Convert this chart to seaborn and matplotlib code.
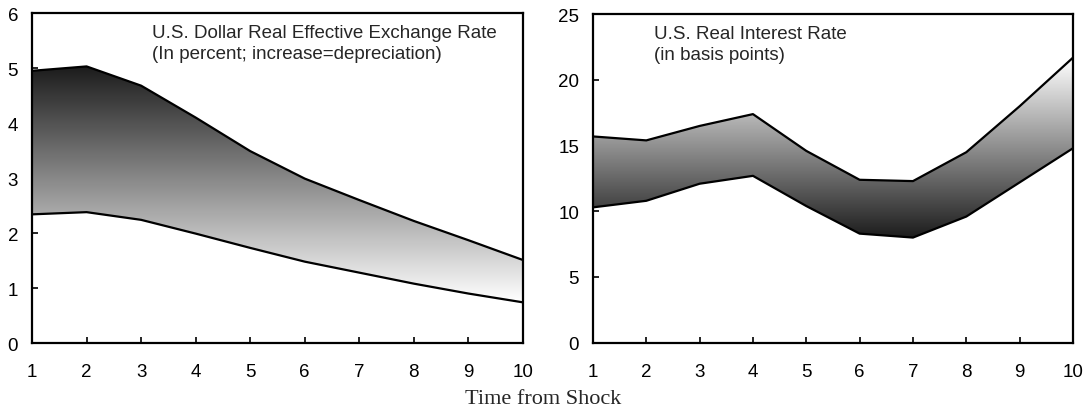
import numpy as np
import pandas as pd
import matplotlib
matplotlib.use("Agg")
import matplotlib.pyplot as plt
import seaborn as sns
from matplotlib.colors import LinearSegmentedColormap

# data
periods = [1, 2, 3, 4, 5, 6, 7, 8, 9, 10]
reer_upper = [4.95, 5.03, 4.68, 4.10, 3.49, 2.99, 2.60, 2.22, 1.87, 1.51]
reer_lower = [2.34, 2.38, 2.24, 1.99, 1.73, 1.48, 1.28, 1.08, 0.90, 0.74]
rate_upper = [15.7, 15.4, 16.5, 17.4, 14.6, 12.4, 12.3, 14.5, 18.0, 21.7]
rate_lower = [10.3, 10.8, 12.1, 12.7, 10.4, 8.3, 8.0, 9.6, 12.2, 14.8]

reer_title = "U.S. Dollar Real Effective Exchange Rate\n(In percent; increase=depreciation)"
rate_title = "U.S. Real Interest Rate\n(in basis points)"
xlabel = "Time from Shock"

sns.set_theme(style="white")
plt.rcParams["font.family"] = ["Liberation Sans", "DejaVu Sans"]


def gradient_band(ax, x, lower, upper, dark_on_top):
    """Fill the band between lower and upper with a vertical grey gradient."""
    poly = ax.fill_between(x, lower, upper, color="none", lw=0)
    cmap = LinearSegmentedColormap.from_list("band", ["#1c1c1c", "#ffffff"])
    grad = np.linspace(0, 1, 256).reshape(-1, 1)
    if not dark_on_top:
        grad = grad[::-1]
    img = ax.imshow(grad, cmap=cmap, aspect="auto", origin="upper",
                    extent=[min(x), max(x), min(lower), max(upper)], zorder=1)
    path = poly.get_paths()[0]
    img.set_clip_path(path, transform=ax.transData)

    df = pd.DataFrame({"x": x, "lower": lower, "upper": upper})
    sns.lineplot(data=df, x="x", y="upper", color="black", lw=1.6, ax=ax, zorder=3)
    sns.lineplot(data=df, x="x", y="lower", color="black", lw=1.6, ax=ax, zorder=3)


def style_axes(ax, ymax, ystep):
    ax.set_xlim(1, 10)
    ax.set_ylim(0, ymax)
    ax.set_xticks(periods)
    ax.set_yticks(np.arange(0, ymax + ystep / 2, ystep))
    ax.set_xlabel("")
    ax.set_ylabel("")
    for s in ax.spines.values():
        s.set_visible(True)
        s.set_color("black")
        s.set_linewidth(1.6)
    ax.tick_params(axis="both", direction="in", length=4, width=1.2,
                   colors="black", labelsize=13.5)
    ax.tick_params(axis="x", pad=14.5, bottom=True)
    ax.tick_params(axis="y", pad=10, left=True)
    ax.set_facecolor("white")


fig = plt.figure(figsize=(10.86, 4.14), dpi=100)
ax1 = fig.add_axes([0.0295, 0.169, 0.452, 0.797])
ax2 = fig.add_axes([0.546, 0.170, 0.442, 0.793])

gradient_band(ax1, periods, reer_lower, reer_upper, dark_on_top=True)
style_axes(ax1, 6, 1)
ax1.text(0.244, 0.968, reer_title, transform=ax1.transAxes, ha="left", va="top",
         fontsize=13.5, linespacing=1.3)

gradient_band(ax2, periods, rate_lower, rate_upper, dark_on_top=False)
style_axes(ax2, 25, 5)
ax2.text(0.127, 0.968, rate_title, transform=ax2.transAxes, ha="left", va="top",
         fontsize=13.5, linespacing=1.3)

fig.text(0.5, 0.034, xlabel, ha="center", va="center", fontsize=16,
         family=["Liberation Serif", "DejaVu Serif"])

fig.savefig("out.png", dpi=100)
